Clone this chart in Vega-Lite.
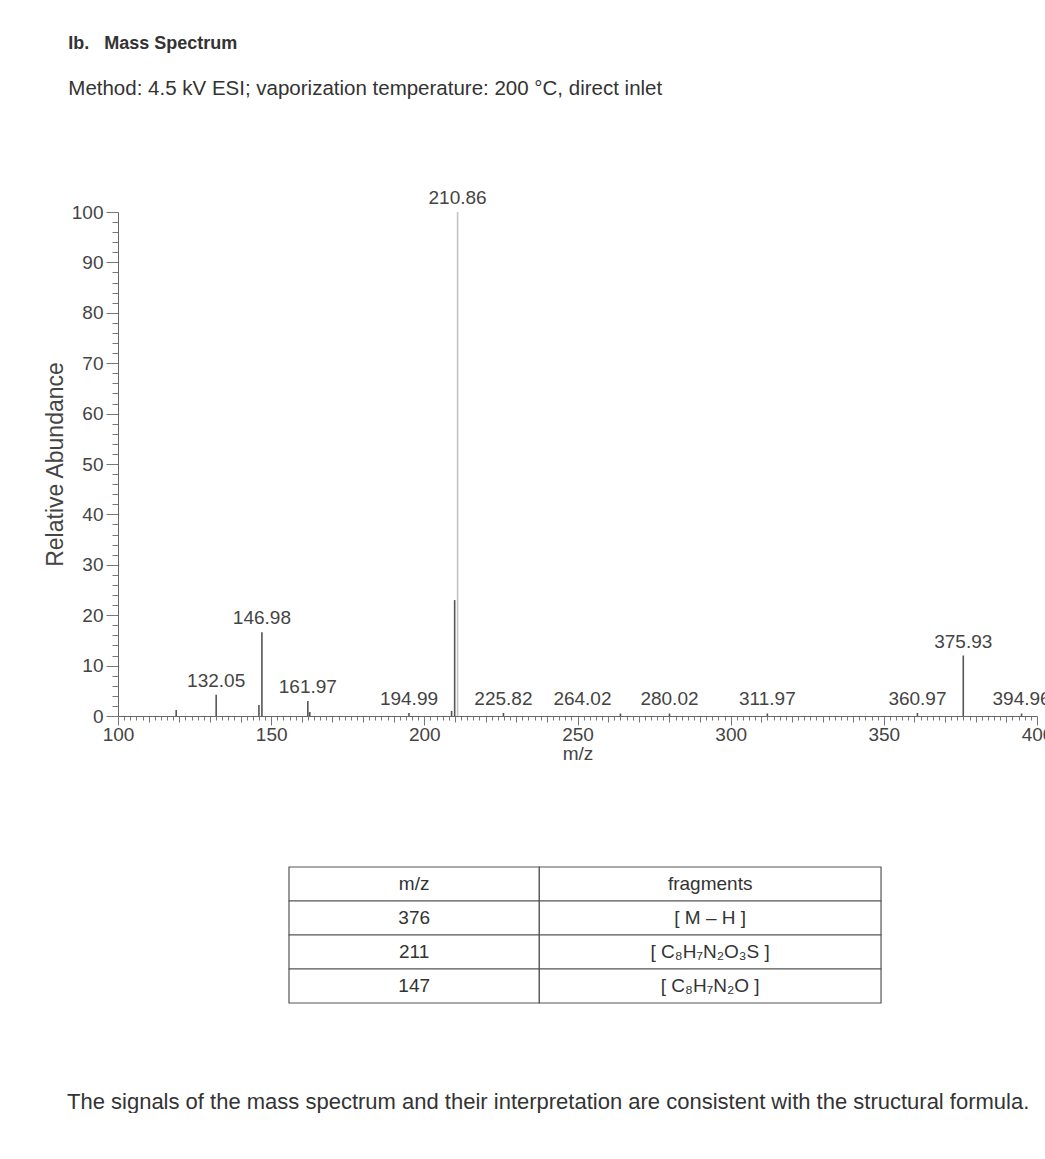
{
  "$schema": "https://vega.github.io/schema/vega-lite/v6.json",
  "background": "white",
  "padding": {"left": 44, "top": 34, "right": 0, "bottom": 0},
  "config": {
    "view": {"stroke": null},
    "font": "Liberation Sans",
    "axis": {"grid": false},
    "title": {"font": "Liberation Sans", "subtitleFont": "Liberation Sans"}
  },
  "title": {
    "text": "Ib.\u00a0\u00a0 Mass Spectrum",
    "subtitle": "Method: 4.5 kV ESI; vaporization temperature: 200 °C, direct inlet",
    "anchor": "start",
    "fontSize": 18,
    "fontWeight": "bold",
    "color": "#333",
    "subtitleFontSize": 20.5,
    "subtitleColor": "#333",
    "subtitlePadding": 26,
    "offset": 90,
    "dx": 24
  },
  "datasets": {
    "peaks": [
      {"mz": 119.0, "intensity": 1.2},
      {"mz": 132.05, "intensity": 4.2, "label": "132.05"},
      {"mz": 146.0, "intensity": 2.2},
      {"mz": 146.98, "intensity": 16.6, "label": "146.98"},
      {"mz": 161.97, "intensity": 3.0, "label": "161.97"},
      {"mz": 162.6, "intensity": 0.8},
      {"mz": 194.99, "intensity": 0.6, "label": "194.99"},
      {"mz": 208.9, "intensity": 1.0},
      {"mz": 209.9, "intensity": 23.0},
      {"mz": 210.86, "intensity": 100, "label": "210.86"},
      {"mz": 225.82, "intensity": 0.6, "label": "225.82"},
      {"mz": 264.02, "intensity": 0.5, "label": "264.02"},
      {"mz": 280.02, "intensity": 0.5, "label": "280.02"},
      {"mz": 311.97, "intensity": 0.5, "label": "311.97"},
      {"mz": 360.97, "intensity": 0.6, "label": "360.97"},
      {"mz": 375.93, "intensity": 12.0, "label": "375.93"},
      {"mz": 394.96, "intensity": 0.5, "label": "394.96"}
    ],
    "table": [
      {"mz": "m/z", "frag": "fragments"},
      {"mz": "376", "frag": "[ M – H ]"},
      {"mz": "211", "frag": "[ C₈H₇N₂O₃S ]"},
      {"mz": "147", "frag": "[ C₈H₇N₂O ]"}
    ]
  },
  "vconcat": [
    {
      "width": 919,
      "height": 504,
      "data": {"name": "peaks"},
      "layer": [
        {
          "mark": {"type": "rule", "strokeWidth": 1.6},
          "encoding": {
            "x": {
              "field": "mz",
              "type": "quantitative",
              "scale": {"domain": [100, 400], "nice": false, "zero": false},
              "axis": {
                "values": [100,102,104,106,108,110,112,114,116,118,120,122,124,126,128,130,132,134,136,138,140,142,144,146,148,150,152,154,156,158,160,162,164,166,168,170,172,174,176,178,180,182,184,186,188,190,192,194,196,198,200,202,204,206,208,210,212,214,216,218,220,222,224,226,228,230,232,234,236,238,240,242,244,246,248,250,252,254,256,258,260,262,264,266,268,270,272,274,276,278,280,282,284,286,288,290,292,294,296,298,300,302,304,306,308,310,312,314,316,318,320,322,324,326,328,330,332,334,336,338,340,342,344,346,348,350,352,354,356,358,360,362,364,366,368,370,372,374,376,378,380,382,384,386,388,390,392,394,396,398,400],
                "tickCount": 1000,
                "format": "d",
                "labelExpr": "datum.value % 50 === 0 ? datum.label : ''",
                "tickSize": {"condition": [{"test": "datum.value % 50 === 0", "value": 9}, {"test": "datum.value % 10 === 0", "value": 6}], "value": 4},
                "labelPadding": 0,
                "labelFontSize": 19,
                "labelColor": "#444",
                "labelOverlap": false,
                "labelFlush": false,
                "domainColor": "#666",
                "tickColor": "#777",
                "title": "m/z",
                "titleFontSize": 19,
                "titleFontWeight": "normal",
                "titleColor": "#444",
                "titlePadding": 0
              }
            },
            "y": {
              "field": "intensity",
              "type": "quantitative",
              "scale": {"domain": [0, 100], "nice": false},
              "axis": {
                "values": [0,2,4,6,8,10,12,14,16,18,20,22,24,26,28,30,32,34,36,38,40,42,44,46,48,50,52,54,56,58,60,62,64,66,68,70,72,74,76,78,80,82,84,86,88,90,92,94,96,98,100],
                "tickCount": 1000,
                "format": "d",
                "labelExpr": "datum.value % 10 === 0 ? datum.label : ''",
                "tickSize": {"condition": {"test": "datum.value % 10 === 0", "value": 12}, "value": 6},
                "labelPadding": 3,
                "labelFontSize": 19,
                "labelColor": "#444",
                "labelOverlap": false,
                "labelFlush": false,
                "domainColor": "#666",
                "tickColor": "#777",
                "title": "Relative Abundance",
                "titleFontSize": 23,
                "titleFontWeight": "normal",
                "titleColor": "#444",
                "titlePadding": 4
              }
            },
            "y2": {"datum": 0},
            "color": {"condition": {"test": "datum.intensity > 50", "value": "#c4c4c4"}, "value": "#555"}
          }
        },
        {
          "transform": [{"filter": "datum.label && datum.label !== '264.02'"}],
          "mark": {"type": "text", "baseline": "bottom", "dy": -4, "fontSize": 19, "color": "#444"},
          "encoding": {
            "x": {"field": "mz", "type": "quantitative"},
            "y": {"field": "intensity", "type": "quantitative"},
            "text": {"field": "label"}
          }
        },
        {
          "transform": [{"filter": "datum.label === '264.02'"}],
          "mark": {"type": "text", "baseline": "bottom", "dy": -4, "dx": -38, "fontSize": 19, "color": "#444"},
          "encoding": {
            "x": {"field": "mz", "type": "quantitative"},
            "y": {"field": "intensity", "type": "quantitative"},
            "text": {"field": "label"}
          }
        }
      ]
    },
    {
      "width": 919,
      "height": 136,
      "data": {"name": "table"},
      "title": {
        "text": "The signals of the mass spectrum and their interpretation are consistent with the structural formula.",
        "orient": "bottom",
        "anchor": "start",
        "fontSize": 22,
        "fontWeight": "normal",
        "color": "#333",
        "offset": 88,
        "dx": -51
      },
      "layer": [
        {
          "mark": {"type": "rect", "fill": "white", "stroke": "#555", "strokeWidth": 1.2},
          "encoding": {
            "x": {"datum": 0, "type": "quantitative", "scale": {"domain": [0, 596], "range": [171, 767]}, "axis": null},
            "x2": {"datum": 252},
            "y": {"field": "mz", "type": "nominal", "sort": null, "scale": {"domain": ["m/z", "376", "211", "147"], "paddingInner": 0, "paddingOuter": 0}, "axis": null}
          }
        },
        {
          "mark": {"type": "rect", "fill": "white", "stroke": "#555", "strokeWidth": 1.2},
          "encoding": {
            "x": {"datum": 252, "type": "quantitative"},
            "x2": {"datum": 596},
            "y": {"field": "mz", "type": "nominal"}
          }
        },
        {
          "mark": {"type": "text", "fontSize": 19, "color": "#333"},
          "encoding": {
            "x": {"datum": 126, "type": "quantitative"},
            "y": {"field": "mz", "type": "nominal"},
            "text": {"field": "mz"}
          }
        },
        {
          "mark": {"type": "text", "fontSize": 19, "color": "#333"},
          "encoding": {
            "x": {"datum": 424, "type": "quantitative"},
            "y": {"field": "mz", "type": "nominal"},
            "text": {"field": "frag"}
          }
        }
      ]
    }
  ],
  "spacing": 103
}
